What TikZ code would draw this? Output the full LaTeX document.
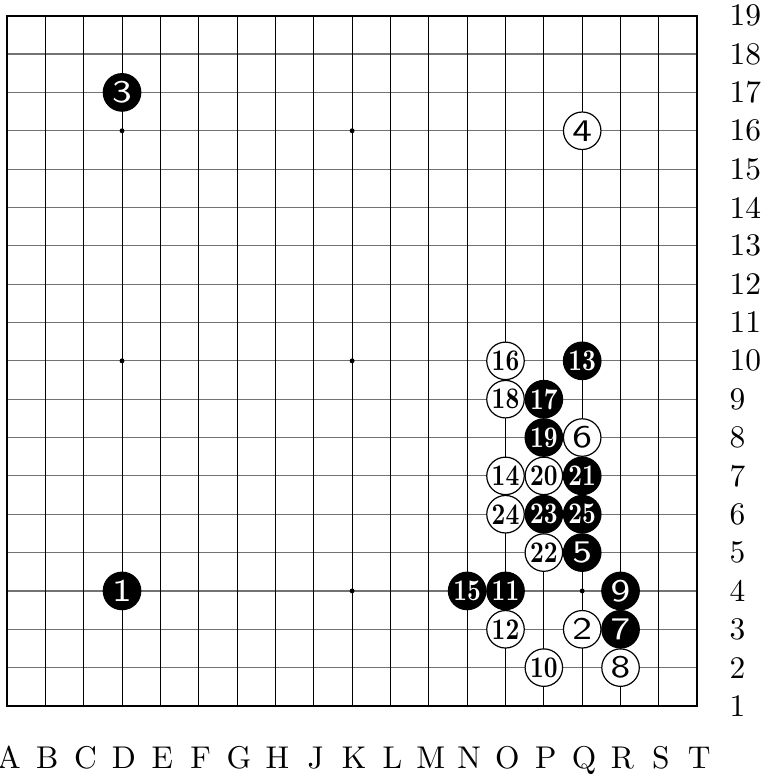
\documentclass[tikz,border=0pt]{standalone}
\usepackage{graphicx}
\usepackage{tikz}
\usetikzlibrary{positioning}

% number printed on a stone: wide sans for one digit, narrow bold roman for two
\newcommand{\stonenum}[1]{%
	\ifnum#1<10 \scalebox{1.25}[1]{\fontsize{10.5}{11}\sffamily #1}%
	\else \scalebox{0.8}[1]{\fontsize{10}{11}\selectfont\bfseries #1}\fi}

\begin{document}
\begin{tikzpicture}[
		x=0.45cm, y=0.45cm,
		gridh/.style={line width=0.4pt, draw=black!55},
		gridv/.style={line width=0.35pt, draw=black},
		border/.style={line width=0.8pt, draw=black},
		hoshi/.style={circle, fill=black, inner sep=0pt, minimum size=0.058cm},
		stone/.style={circle, inner sep=0pt, minimum size=0.44cm, line width=0.4pt},
		blackstone/.style={stone, fill=black, draw=black, text=white},
		whitestone/.style={stone, fill=white, draw=black, text=black},
		rowlabel/.style={anchor=west, inner sep=0pt, font=\fontsize{10.5}{12.6}\selectfont},
		collabel/.style={anchor=base, inner sep=0pt, font=\fontsize{10.5}{12.6}\selectfont},
		]
		\useasboundingbox (0.818,-0.878) rectangle (20.83,19.41);

		% Grid
		\foreach \k in {2,...,18} {
			\draw[gridh] (1,\k) -- (19,\k);
		}
		\foreach \k in {2,...,18} {
			\draw[gridv] (\k,1) -- (\k,19);
		}
		\draw[border] (1,1) rectangle (19,19);

		% Star points
		\foreach \c in {4,10,16} {
			\foreach \r in {4,10,16} {
				\node[hoshi] (h\c-\r) at (\c,\r) {};
			}
		}

		% Black stones
		\foreach \c/\r/\n in {4/4/1, 4/17/3, 16/5/5, 17/3/7, 17/4/9, 14/4/11, 16/10/13,
			13/4/15, 15/9/17, 15/8/19, 16/7/21, 15/6/23, 16/6/25} {
			\node[blackstone] (m\n) at (\c,\r) {\stonenum{\n}};
		}

		% White stones
		\foreach \c/\r/\n in {16/3/2, 16/16/4, 16/8/6, 17/2/8, 15/2/10, 14/3/12, 14/7/14,
			14/10/16, 14/9/18, 15/7/20, 15/5/22, 14/6/24} {
			\node[whitestone] (m\n) at (\c,\r) {\stonenum{\n}};
		}

		% Coordinates
		\foreach \r in {1,...,19} {
			\node[rowlabel] (row\r) at (19.83,\r) {\r};
		}
		\foreach \l [count=\i] in {A,B,C,D,E,F,G,H,J,K,L,M,N,O,P,Q,R,S,T} {
			\node[collabel] (col\l) at (\i+0.05,-0.62) {\l};
		}
	\end{tikzpicture}
\end{document}
